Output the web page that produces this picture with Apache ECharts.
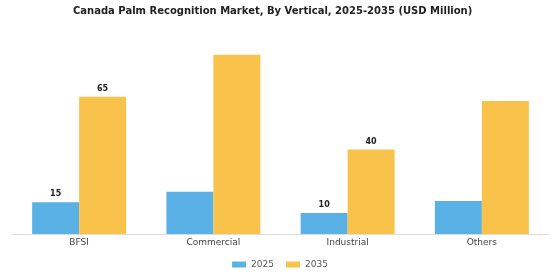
<!DOCTYPE html>
<html>
<head>
<meta charset="utf-8">
<script src="https://cdn.jsdelivr.net/npm/echarts@6/dist/echarts.min.js"></script>
<style>
  html, body { margin: 0; padding: 0; background: #fff; }
  #chart { width: 560px; height: 280px; }
</style>
</head>
<body>
<div id="chart"></div>
<script>
var categories = ['BFSI', 'Commercial', 'Industrial', 'Others'];
var seriesNames = ['2025', '2035'];
var values2025 = [15, 20, 10, 15.6];
var values2035 = [65, 85, 40, 63];
// which bars carry a value label in the original
var labeled2025 = [true, false, true, false];
var labeled2035 = [true, false, true, false];

function buildData(vals, flags){
	return vals.map(function(v, i){
		return { value: v, label: { show: flags[i] } };
	});
}

var barLabel = {
	position: 'top',
	distance: 4,
	color: '#222',
	fontSize: 8,
	fontWeight: 'bold',
	fontFamily: 'DejaVu Sans'
};

var option = {
	animation: false,
	title: {
		text: 'Canada Palm Recognition Market, By Vertical, 2025-2035 (USD Million)',
		left: 68,
		top: 1,
		textStyle: { fontFamily: 'DejaVu Sans', fontSize: 10, fontWeight: 'bold', color: '#222' }
	},
	legend: {
		data: seriesNames,
		bottom: 6,
		left: 'center',
		itemWidth: 14,
		itemHeight: 6,
		itemGap: 12,
		icon: 'rect',
		textStyle: { fontFamily: 'DejaVu Sans', fontSize: 9, color: '#555' }
	},
	grid: { left: 12, right: 11, top: 23, bottom: 46 },
	xAxis: {
		type: 'category',
		data: categories,
		axisTick: { show: false },
		axisLine: { lineStyle: { color: '#ddd', width: 1 } },
		axisLabel: { fontFamily: 'DejaVu Sans', fontSize: 9, color: '#444', margin: 4 }
	},
	yAxis: {
		type: 'value',
		min: 0,
		max: 100,
		show: false,
		splitLine: { show: false }
	},
	series: [{
		name: seriesNames[0],
		type: 'bar',
		barGap: '0%',
		barCategoryGap: '30%',
		itemStyle: { color: '#5AB1E5' },
		label: barLabel,
		data: buildData(values2025, labeled2025)
	}, {
		name: seriesNames[1],
		type: 'bar',
		itemStyle: { color: '#F9C34B' },
		label: barLabel,
		data: buildData(values2035, labeled2035)
	}]
};

var myChart = echarts.init(document.getElementById('chart'));
myChart.setOption(option);
</script>
</body>
</html>
